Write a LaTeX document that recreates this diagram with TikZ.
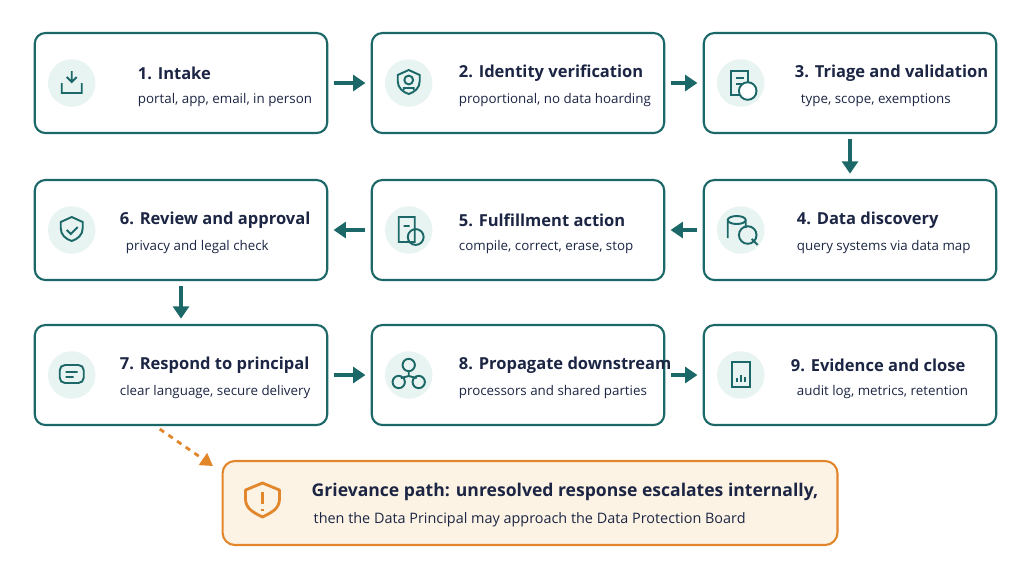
\documentclass[tikz,border=0pt]{standalone}
\usepackage{fontspec}
\setmainfont{Open Sans}
\usetikzlibrary{arrows.meta, positioning, calc}
\definecolor{stepteal}{RGB}{28, 104, 104}
\definecolor{iconfill}{RGB}{232, 244, 242}
\definecolor{inknavy}{RGB}{28, 38, 68}
\definecolor{warnorange}{RGB}{226, 134, 44}
\definecolor{warnfill}{RGB}{253, 243, 228}

\tikzset{
  stepbox/.style={rectangle, rounded corners=6pt, draw=stepteal, line width=1.2pt, fill=white, minimum width=5.85cm, minimum height=2cm},
  icon/.style={circle, fill=iconfill, minimum size=0.95cm, inner sep=0pt},
  title/.style={font=\bfseries\fontsize{9.4}{11}\selectfont, text=inknavy, anchor=west},
  sub/.style={font=\fontsize{7.6}{9}\selectfont, text=inknavy, anchor=west},
  flow/.style={-{Triangle[length=7pt,width=9pt]}, line width=2.6pt, stepteal, shorten <=3pt, shorten >=3pt}
}

\begin{document}
\begin{tikzpicture}[x=0.02cm, y=-0.02cm]
\useasboundingbox (0,0) rectangle (1024,576);

% Step boxes
\node[stepbox] (intake) at (181,83) {};
\node[stepbox] (ident) at (518,83) {};
\node[stepbox] (triage) at (850,83) {};
\node[stepbox] (discover) at (850,230) {};
\node[stepbox] (fulfil) at (518,230) {};
\node[stepbox] (review) at (181,230) {};
\node[stepbox] (respond) at (181,375) {};
\node[stepbox] (propagate) at (518,375) {};
\node[stepbox] (evidence) at (850,375) {};

% Icons
\foreach \n in {intake, ident, triage, discover, fulfil, review, respond, propagate, evidence}
  \node[icon] (\n-ic) at ($(\n.west)+(38,0)$) {};
\draw[stepteal, line width=1.1pt] ($(intake-ic)+(-10,0)$) -- ++(0,10) -- ++(20,0) -- ++(0,-10) ($(intake-ic)+(0,-12)$) -- ++(0,11) ++(-5,-5) -- ++(5,5) -- ++(5,-5);
\draw[stepteal, line width=1.1pt] ($(ident-ic)+(0,-13)$) -- ++(11,5) -- ++(0,6) .. controls ++(0,7) and ++(6,-2) .. ++(-11,13) .. controls ++(-6,-2) and ++(0,7) .. ++(-11,-13) -- ++(0,-6) -- cycle;
\draw[stepteal, line width=1.1pt] ($(ident-ic)+(0,-3)$) circle (2.5pt) ($(ident-ic)+(-5,7)$) -- ++(0,-2) -- ++(10,0) -- ++(0,2);
\draw[stepteal, line width=1.1pt] ($(triage-ic)+(-10,-12)$) rectangle ++(17,24) ($(triage-ic)+(-5,-5)$) -- ++(8,0) ($(triage-ic)+(-5,1)$) -- ++(8,0);
\draw[stepteal, line width=1.1pt, fill=white] ($(triage-ic)+(7,8)$) circle (5pt);
\draw[stepteal, line width=1.1pt] ($(discover-ic)+(-4,-10)$) ellipse (9 and 4) ($(discover-ic)+(-13,-10)$) -- ++(0,18) ($(discover-ic)+(5,-10)$) -- ++(0,8) ($(discover-ic)+(7,5)$) circle (5pt) ++(4,4) -- ++(6,6);
\draw[stepteal, line width=1.1pt] ($(fulfil-ic)+(-10,-13)$) rectangle ++(16,25) ($(fulfil-ic)+(-5,-4)$) -- ++(6,0) ($(fulfil-ic)+(7,7)$) circle (4.5pt);
\draw[stepteal, line width=1.1pt] ($(review-ic)+(0,-13)$) -- ++(11,5) -- ++(0,6) .. controls ++(0,7) and ++(6,-2) .. ++(-11,13) .. controls ++(-6,-2) and ++(0,7) .. ++(-11,-13) -- ++(0,-6) -- cycle ($(review-ic)+(-5,0)$) -- ++(4,4) -- ++(7,-7);
\draw[stepteal, line width=1.1pt, rounded corners=3pt] ($(respond-ic)+(-12,-10)$) rectangle ++(24,18) ($(respond-ic)+(-6,-3)$) -- ++(12,0) ($(respond-ic)+(-6,2)$) -- ++(8,0);
\draw[stepteal, line width=1.1pt] ($(propagate-ic)+(0,-10)$) circle (3.5pt) ($(propagate-ic)+(-10,7)$) circle (3.5pt) ($(propagate-ic)+(10,7)$) circle (3.5pt) ($(propagate-ic)+(0,-4)$) -- ++(0,5) -- ++(-8,2) ++(8,-2) -- ++(8,2);
\draw[stepteal, line width=1.1pt] ($(evidence-ic)+(-9,-13)$) rectangle ++(18,25) ($(evidence-ic)+(-4,7)$) -- ++(0,-4) ($(evidence-ic)+(0,7)$) -- ++(0,-7) ($(evidence-ic)+(4,7)$) -- ++(0,-5);

% Texts
\node[title] at ($(intake.west)+(98,-10)$) {1. Intake};
\node[sub] at ($(intake.west)+(98,17)$) {portal, app, email, in person};
\node[title] at ($(ident.west)+(82,-10)$) {2. Identity verification};
\node[sub] at ($(ident.west)+(82,17)$) {proportional, no data hoarding};
\node[title] at ($(triage.west)+(86,-10)$) {3. Triage and validation};
\node[sub] at ($(triage.west)+(92,17)$) {type, scope, exemptions};
\node[title] at ($(discover.west)+(88,-10)$) {4. Data discovery};
\node[sub] at ($(discover.west)+(88,17)$) {query systems via data map};
\node[title] at ($(fulfil.west)+(82,-10)$) {5. Fulfillment action};
\node[sub] at ($(fulfil.west)+(82,17)$) {compile, correct, erase, stop};
\node[title] at ($(review.west)+(80,-10)$) {6. Review and approval};
\node[sub] at ($(review.west)+(86,17)$) {privacy and legal check};
\node[title] at ($(respond.west)+(80,-10)$) {7. Respond to principal};
\node[sub] at ($(respond.west)+(80,17)$) {clear language, secure delivery};
\node[title] at ($(propagate.west)+(82,-10)$) {8. Propagate downstream};
\node[sub] at ($(propagate.west)+(82,17)$) {processors and shared parties};
\node[title] at ($(evidence.west)+(82,-10)$) {9. Evidence and close};
\node[sub] at ($(evidence.west)+(88,17)$) {audit log, metrics, retention};

% Flow arrows
\draw[flow] (intake) -- (ident);
\draw[flow] (ident) -- (triage);
\draw[flow] (triage) -- (discover);
\draw[flow] (discover) -- (fulfil);
\draw[flow] (fulfil) -- (review);
\draw[flow] (review) -- (respond);
\draw[flow] (respond) -- (propagate);
\draw[flow] (propagate) -- (evidence);

% Grievance
\node[rectangle, rounded corners=7pt, draw=warnorange, line width=1.2pt, fill=warnfill, minimum width=12.3cm, minimum height=1.68cm] (grievance) at (530,503) {};
\draw[warnorange, line width=1.6pt, line join=round] ($(grievance.west)+(41,-20)$) coordinate (gs) -- ++(17,7) -- ++(0,9) .. controls ++(0,10) and ++(8,-4) .. ++(-17,18) .. controls ++(-8,-4) and ++(0,10) .. ++(-17,-18) -- ++(0,-9) -- cycle;
\draw[warnorange, line width=2pt] ($(gs)+(0,9)$) -- ++(0,12) ++(0,5) -- ++(0,2);
\node[title, font=\bfseries\fontsize{10}{12}\selectfont] at ($(grievance.west)+(84,-11)$) {Grievance path: unresolved response escalates internally,};
\node[sub, font=\fontsize{8.2}{10}\selectfont] at ($(grievance.west)+(86,17)$) {then the Data Principal may approach the Data Protection Board};
\coordinate (gtip) at (213,466);
\draw[warnorange, line width=1.6pt, dashed, -{Triangle[length=7pt,width=8pt]}] ($(respond.south west)+(126,3)$) -- (gtip);
\end{tikzpicture}
\end{document}
